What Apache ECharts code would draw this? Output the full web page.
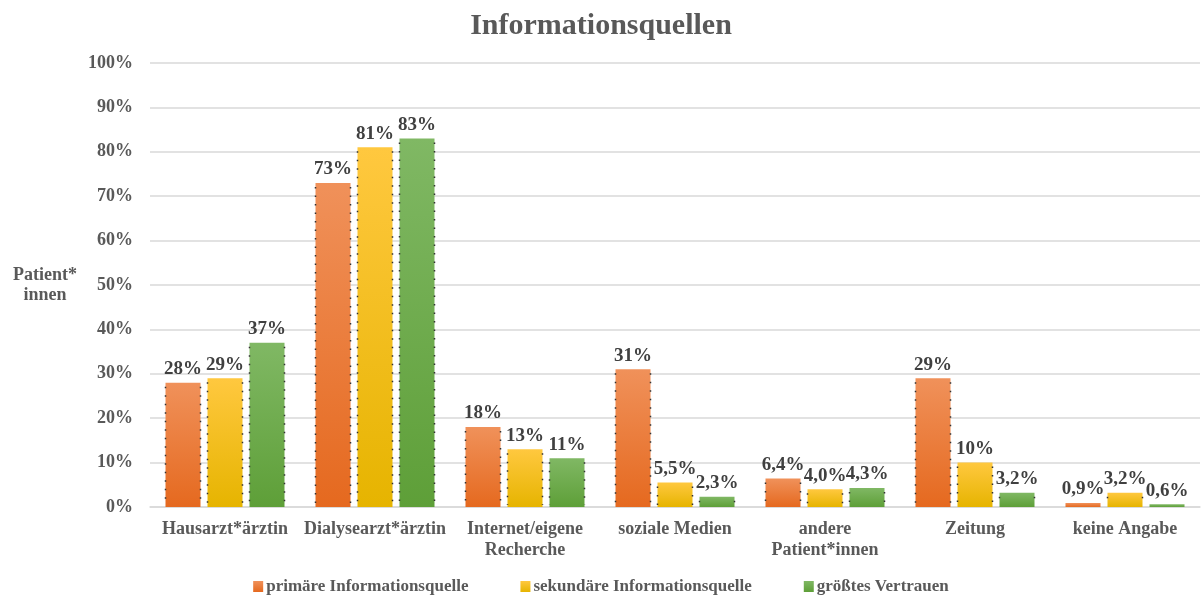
<!DOCTYPE html>
<html>
<head>
<meta charset="utf-8">
<script src="https://cdn.jsdelivr.net/npm/echarts@6/dist/echarts.min.js"></script>
<style>
  html, body { margin: 0; padding: 0; background: #fff; }
  #mainCanvas { width: 1202px; height: 597px; }
</style>
</head>
<body>
<div id="mainCanvas"></div>
<script>
var myChart = echarts.init(document.getElementById("mainCanvas"));

var categories = ["Hausarzt*ärztin", "Dialysearzt*ärztin", "Internet/eigene\nRecherche", "soziale Medien", "andere\nPatient*innen", "Zeitung", "keine Angabe"];
var primaer = [28, 73, 18, 31, 6.4, 29, 0.9];
var sekundaer = [29, 81, 13, 5.5, 4.0, 10, 3.2];
var vertrauen = [37, 83, 11, 2.3, 4.3, 3.2, 0.6];
var seriesNames = ["primäre Informationsquelle", "sekundäre Informationsquelle", "größtes Vertrauen"];

var font = "'Liberation Serif', 'Times New Roman', serif";
var barW = 35, gapPx = 7;

function fmt(v) {
    if (v >= 10) return Math.round(v) + '%';
    return v.toFixed(1).replace('.', ',') + '%';
}

function grad(top, bottom) {
    return new echarts.graphic.LinearGradient(0, 0, 0, 1, [
        { offset: 0, color: top },
        { offset: 1, color: bottom }
    ]);
}

function barSeries(name, data, top, bottom) {
    return {
        name: name,
        type: 'bar',
        data: data,
        barWidth: barW,
        barGap: '20%',
        itemStyle: { color: grad(top, bottom) },
        label: {
            show: true,
            position: 'top',
            distance: 4,
            fontFamily: font,
            fontWeight: 'bold',
            fontSize: 19,
            color: '#404040',
            formatter: function (p) { return fmt(p.value); }
        }
    };
}

// dotted side lines like in the original (drawn from the same data via the axes)
function dotSeries(data, idx) {
    return {
        type: 'custom',
        silent: true,
        z: 3,
        data: data.map(function (v, i) { return [i, v]; }),
        renderItem: function (params, api) {
            var top = api.coord([api.value(0), api.value(1)]);
            var base = api.coord([api.value(0), 0]);
            var x0 = top[0] + (idx - 1) * (barW + gapPx) - barW / 2;
            var x1 = x0 + barW;
            var y0 = top[1] + 4;
            if (base[1] - y0 < 6) return null;
            var style = { stroke: '#333', lineWidth: 1.5, lineDash: [1.5, 7] };
            return {
                type: 'group',
                children: [
                    { type: 'line', shape: { x1: x0, y1: y0, x2: x0, y2: base[1] - 2 }, style: style },
                    { type: 'line', shape: { x1: x1, y1: y0, x2: x1, y2: base[1] - 2 }, style: style }
                ]
            };
        }
    };
}

var option = {
    title: {
        text: 'Informationsquellen',
        left: 'center',
        top: 6,
        textStyle: { fontFamily: font, fontWeight: 'bold', fontSize: 30, color: '#595959' }
    },
    legend: {
        data: seriesNames,
        bottom: 2,
        left: 'center',
        padding: 0,
        icon: 'rect',
        itemWidth: 10,
        itemHeight: 11,
        itemGap: 52,
        textStyle: { fontFamily: font, fontWeight: 'bold', fontSize: 17, color: '#595959', padding: [0, 0, 0, -2] }
    },
    grid: { left: 150, right: 2, top: 63, bottom: 90 },
    xAxis: {
        type: 'category',
        data: categories,
        axisLine: { lineStyle: { color: '#d9d9d9', width: 1.5 } },
        axisTick: { show: false },
        axisLabel: {
            margin: 12,
            interval: 0,
            fontFamily: font,
            fontWeight: 'bold',
            fontSize: 18,
            lineHeight: 21,
            color: '#595959'
        }
    },
    yAxis: {
        type: 'value',
        min: 0,
        max: 100,
        interval: 10,
        name: 'Patient*\ninnen',
        nameLocation: 'middle',
        nameRotate: 0,
        nameGap: 105,
        nameTextStyle: { fontFamily: font, fontWeight: 'bold', fontSize: 18, color: '#595959', align: 'center', lineHeight: 20 },
        axisLabel: {
            margin: 17,
            fontFamily: font,
            fontWeight: 'bold',
            fontSize: 18,
            color: '#595959',
            formatter: '{value}%'
        },
        splitLine: { lineStyle: { color: '#d9d9d9', width: 1.5 } }
    },
    series: [
        barSeries(seriesNames[0], primaer, '#f0915a', '#e5691f'),
        barSeries(seriesNames[1], sekundaer, '#ffc83f', '#e6b400'),
        barSeries(seriesNames[2], vertrauen, '#80b864', '#5e9f38'),
        dotSeries(primaer, 0),
        dotSeries(sekundaer, 1),
        dotSeries(vertrauen, 2)
    ]
};

myChart.setOption(option);
</script>
</body>
</html>
